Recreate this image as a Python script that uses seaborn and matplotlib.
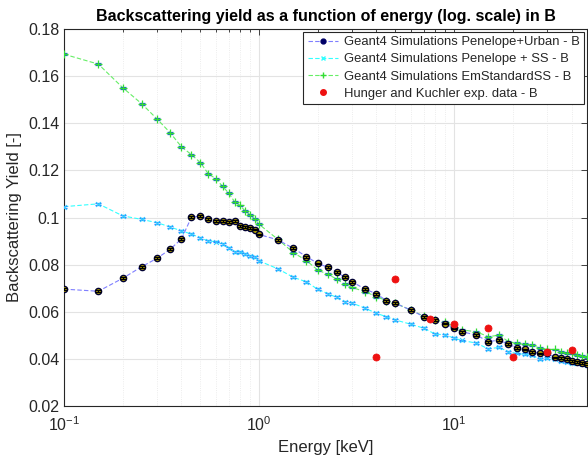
import numpy as np
import pandas as pd
import matplotlib
matplotlib.use("Agg")
import matplotlib.pyplot as plt
from matplotlib.lines import Line2D
from matplotlib.ticker import FuncFormatter, LogLocator, NullFormatter
import seaborn as sns

# Primary energies of the simulations [keV]
energy_sim = [0.1, 0.15, 0.2, 0.25, 0.3, 0.35, 0.4, 0.45, 0.5, 0.55, 0.6, 0.65, 0.7,
              0.75, 0.8, 0.85, 0.9, 0.95, 1.0,
              1.25, 1.5, 1.75, 2.0, 2.25, 2.5, 2.75, 3.0, 3.5, 4.0, 4.5, 5.0, 6.0,
              7.0, 8.0, 9.0, 10.0,
              11, 13, 15, 17, 19, 21, 23, 25, 27.5, 30, 33, 35.5, 38, 40, 42.5, 45, 48]

# Backscattering yield, Penelope + Urban
yield_pen_urban = [0.0696, 0.0687, 0.0742, 0.0791, 0.0827, 0.0865, 0.0909, 0.1001, 0.1006,
                   0.0992, 0.0984, 0.0984, 0.0981, 0.0984, 0.0965, 0.0960, 0.0956, 0.0949,
                   0.0928,
                   0.0905, 0.0869, 0.0834, 0.0805, 0.0789, 0.0769, 0.0746, 0.0727, 0.0696,
                   0.0676, 0.0647, 0.0636, 0.0607, 0.0579, 0.0565, 0.0550, 0.0529,
                   0.0515, 0.0501, 0.0473, 0.0480, 0.0462, 0.0447, 0.0440, 0.0430, 0.0423,
                   0.0423, 0.0406, 0.0402, 0.0398, 0.0391, 0.0388, 0.0381, 0.0377]

# Backscattering yield, Penelope + single scattering
yield_pen_ss = [0.1046, 0.1058, 0.1007, 0.0992, 0.0978, 0.0960, 0.0943, 0.0930, 0.0914,
                0.0900, 0.0898, 0.0886, 0.0870, 0.0855, 0.0855, 0.0844, 0.0838, 0.0834,
                0.0816,
                0.0782, 0.0746, 0.0727, 0.0695, 0.0677, 0.0661, 0.0642, 0.0637, 0.0615,
                0.0593, 0.0579, 0.0565, 0.0547, 0.0530, 0.0505, 0.0502, 0.0488,
                0.0478, 0.0467, 0.0442, 0.0449, 0.0430, 0.0423, 0.0419, 0.0416, 0.0398,
                0.0402, 0.0398, 0.0391, 0.0388, 0.0384, 0.0381, 0.0377, 0.0372]

# Backscattering yield, EmStandardSS
yield_em_ss = [0.1693, 0.1651, 0.1551, 0.1483, 0.1418, 0.1360, 0.1300, 0.1267, 0.1233,
               0.1185, 0.1165, 0.1132, 0.1103, 0.1066, 0.1051, 0.1027, 0.1012, 0.0993,
               0.0971,
               0.0907, 0.0851, 0.0817, 0.0777, 0.0759, 0.0739, 0.0716, 0.0703, 0.0685,
               0.0664, 0.0647, 0.0636, 0.0607, 0.0581, 0.0564, 0.0557, 0.0536,
               0.0523, 0.0515, 0.0494, 0.0501, 0.0473, 0.0466, 0.0462, 0.0459, 0.0445,
               0.0440, 0.0440, 0.0430, 0.0426, 0.0423, 0.0416, 0.0412, 0.0409]

# Hunger and Kuchler experimental data
energy_exp = [4.0, 5.0, 7.5, 10.0, 15.0, 20.0, 30.0, 40.0]
yield_exp = [0.0409, 0.0739, 0.0569, 0.0549, 0.0530, 0.0409, 0.0428, 0.0439]

# statistical uncertainties (one sigma)
err_sim = 0.0004
err_exp = 0.0008

labels = ["Geant4 Simulations Penelope+Urban - B",
          "Geant4 Simulations Penelope + SS - B",
          "Geant4 Simulations EmStandardSS - B",
          "Hunger and Kuchler exp. data - B"]

sns.set_theme(style="whitegrid")
plt.rcParams["font.family"] = ["Liberation Sans", "DejaVu Sans"]

fig = plt.figure(figsize=(5.88, 4.62), dpi=100)
ax = fig.add_axes([64 / 588, 1 - 406 / 462, 523 / 588, 377 / 462])
ax.set_facecolor("white")

df_urban = pd.DataFrame({"E": energy_sim, "Y": yield_pen_urban})
df_ss = pd.DataFrame({"E": energy_sim, "Y": yield_pen_ss})
df_em = pd.DataFrame({"E": energy_sim, "Y": yield_em_ss})
df_exp = pd.DataFrame({"E": energy_exp, "Y": yield_exp})

# EmStandardSS
sns.lineplot(data=df_em, x="E", y="Y", ax=ax, estimator=None, sort=False,
             color="#66ee66", linestyle=(0, (4, 2)), linewidth=0.8, zorder=2)
ax.errorbar(df_em["E"], df_em["Y"], yerr=err_sim, fmt="none", ecolor="#1f6fc0",
            elinewidth=0.8, capsize=2.5, capthick=0.9, zorder=3)
sns.scatterplot(data=df_em, x="E", y="Y", ax=ax, marker="+", s=28, color="#33dd33",
                linewidth=0.9, zorder=4)

# Penelope + SS
sns.lineplot(data=df_ss, x="E", y="Y", ax=ax, estimator=None, sort=False,
             color="#33ffff", linestyle=(0, (4, 2)), linewidth=0.8, zorder=2)
ax.errorbar(df_ss["E"], df_ss["Y"], yerr=err_sim, fmt="none", ecolor="#2a7fff",
            elinewidth=0.8, capsize=2.5, capthick=0.9, zorder=3)
sns.scatterplot(data=df_ss, x="E", y="Y", ax=ax, marker="x", s=12, color="#33ccff",
                linewidth=0.8, zorder=4)

# Penelope + Urban
sns.lineplot(data=df_urban, x="E", y="Y", ax=ax, estimator=None, sort=False,
             color="#7f7fff", linestyle=(0, (4, 2)), linewidth=0.8, zorder=5)
sns.scatterplot(data=df_urban, x="E", y="Y", ax=ax, marker="o", s=20, color="#b5a600",
                edgecolor="#000033", linewidth=1.0, zorder=6)
ax.errorbar(df_urban["E"], df_urban["Y"], yerr=err_sim, fmt="none", ecolor="black",
            elinewidth=0.8, capsize=2.2, capthick=0.9, zorder=7)

# Experimental data
ax.errorbar(df_exp["E"], df_exp["Y"], yerr=err_exp, fmt="none", ecolor="#ff9999",
            elinewidth=0.8, capsize=2.5, zorder=8)
sns.scatterplot(data=df_exp, x="E", y="Y", ax=ax, marker="o", s=26, color="#ee1111",
                edgecolor="#ee1111", linewidth=0.5, zorder=9)

ax.set_xscale("log")
ax.set_xlim(0.1, 48)
ax.set_ylim(0.02, 0.18)
ax.set_yticks(np.arange(0.02, 0.181, 0.02))
ax.yaxis.set_major_formatter(FuncFormatter(lambda v, p: f"{v:g}"))
ax.xaxis.set_major_locator(LogLocator(base=10, numticks=10))
ax.xaxis.set_minor_locator(LogLocator(base=10, subs=np.arange(2, 10), numticks=20))
ax.xaxis.set_minor_formatter(NullFormatter())

ax.grid(True, which="major", color="#e3e3e3", linewidth=0.8, linestyle="-")
ax.grid(True, which="minor", axis="x", color="#e6e6e6", linewidth=0.6, linestyle=":")
ax.set_axisbelow(True)

for sp in ax.spines.values():
    sp.set_visible(True)
    sp.set_color("#262626")
    sp.set_linewidth(0.8)
ax.tick_params(which="both", direction="in", top=True, right=True, colors="#262626",
               labelsize=11.5, length=4, width=0.6)
ax.tick_params(which="minor", length=2.5)
ax.tick_params(axis="x", pad=7)

ax.set_xlabel("Energy [keV]", fontsize=12, color="#262626", labelpad=4)
ax.set_ylabel("Backscattering Yield [-]", fontsize=12, color="#262626", labelpad=4)
ax.set_title("Backscattering yield as a function of energy (log. scale) in B",
             fontsize=11.5, fontweight="bold", color="black", pad=6)

handles = [
    Line2D([], [], color="#7f7fff", linestyle=(0, (4, 2)), linewidth=0.8,
           marker="o", markersize=3.5, markerfacecolor="#000066", markeredgecolor="#000066"),
    Line2D([], [], color="#33ffff", linestyle=(0, (4, 2)), linewidth=0.8,
           marker="x", markersize=3.5, markeredgecolor="#33ffff"),
    Line2D([], [], color="#66ee66", linestyle=(0, (4, 2)), linewidth=0.8,
           marker="+", markersize=4, markeredgecolor="#33dd33"),
    Line2D([], [], color="none", marker="o", markersize=4,
           markerfacecolor="#ee1111", markeredgecolor="#ee1111"),
]
leg = ax.legend(handles, labels, loc="upper right", fontsize=9.4, frameon=True,
                fancybox=False, edgecolor="#262626", framealpha=1,
                borderpad=0.35, labelspacing=0.38, handlelength=2.3,
                handletextpad=0.5, borderaxespad=0.2)
leg.get_frame().set_linewidth(0.8)

fig.savefig("out.png", dpi=100)
